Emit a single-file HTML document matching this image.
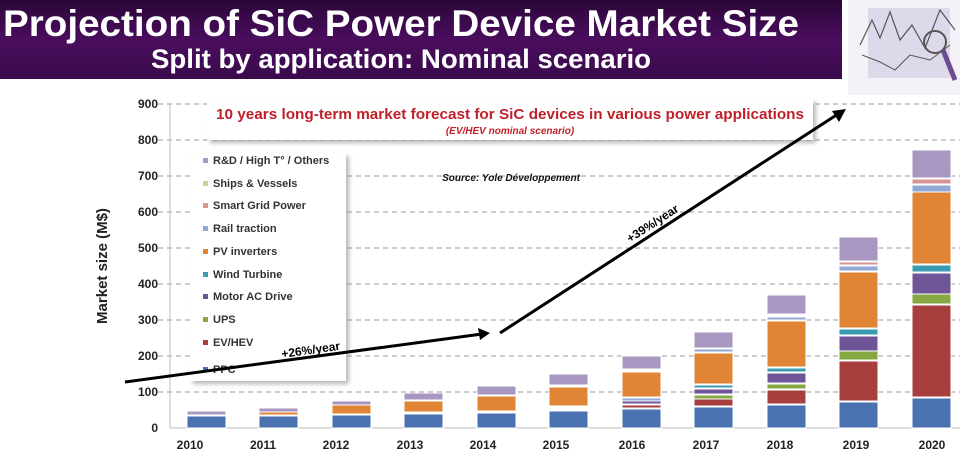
<!DOCTYPE html>
<html><head><meta charset="utf-8"><style>
body{margin:0;width:960px;height:451px;overflow:hidden;background:#fff;font-family:"Liberation Sans",sans-serif}
</style></head><body>
<svg width="960" height="451" viewBox="0 0 960 451" xmlns="http://www.w3.org/2000/svg" font-family="Liberation Sans, sans-serif">
<defs>
<linearGradient id="pg" x1="0" y1="0" x2="0" y2="1">
<stop offset="0" stop-color="#2a0638"/><stop offset="0.5" stop-color="#4a0d5e"/><stop offset="1" stop-color="#3a0a4c"/></linearGradient>
<filter id="sh" x="-5%" y="-5%" width="115%" height="120%"><feDropShadow dx="3" dy="3" stdDeviation="2" flood-color="#888" flood-opacity="0.6"/></filter>
</defs>
<rect x="0" y="0" width="842" height="79" fill="url(#pg)"/>
<text x="401" y="36" text-anchor="middle" fill="#fff" font-size="37" font-weight="bold" textLength="796" lengthAdjust="spacingAndGlyphs">Projection of SiC Power Device Market Size</text>
<text x="401" y="68" text-anchor="middle" fill="#fff" font-size="27" font-weight="bold" textLength="500" lengthAdjust="spacingAndGlyphs">Split by application: Nominal scenario</text>
<!-- sketch image -->
<rect x="848" y="0" width="112" height="95" fill="#f4f2f8"/>
<rect x="868" y="8" width="82" height="70" fill="#ddd8ea"/>
<polyline points="860,45 872,20 880,38 890,12 900,40 912,25 925,48 940,10 955,30" fill="none" stroke="#555" stroke-width="1.2"/>
<polyline points="862,55 880,62 895,70 910,55 930,60 950,45" fill="none" stroke="#555" stroke-width="1"/>
<circle cx="935" cy="42" r="11" fill="none" stroke="#555" stroke-width="2"/>
<line x1="943" y1="50" x2="955" y2="80" stroke="#6a4c90" stroke-width="5"/>
<!-- grid -->
<g stroke="#999" stroke-dasharray="5,4" stroke-width="1">
<line x1="158" y1="104" x2="960" y2="104"/><line x1="158" y1="140" x2="960" y2="140"/>
<line x1="158" y1="176" x2="960" y2="176"/><line x1="158" y1="212" x2="960" y2="212"/>
<line x1="158" y1="248" x2="960" y2="248"/><line x1="158" y1="284" x2="960" y2="284"/>
<line x1="158" y1="320" x2="960" y2="320"/><line x1="158" y1="356" x2="960" y2="356"/>
<line x1="158" y1="392" x2="960" y2="392"/>
</g>
<line x1="170" y1="104" x2="170" y2="428" stroke="#bbb"/>
<line x1="170" y1="428" x2="960" y2="428" stroke="#bbb"/>
<g font-size="12" font-weight="bold" fill="#222" text-anchor="end">
<text x="158" y="108">900</text><text x="158" y="144">800</text><text x="158" y="180">700</text>
<text x="158" y="216">600</text><text x="158" y="252">500</text><text x="158" y="288">400</text>
<text x="158" y="324">300</text><text x="158" y="360">200</text><text x="158" y="396">100</text>
<text x="158" y="432">0</text></g>
<text transform="translate(107,266) rotate(-90)" text-anchor="middle" font-size="15" font-weight="bold" fill="#222">Market size (M$)</text>
<g font-size="12" font-weight="bold" fill="#222" text-anchor="middle">
<text x="190" y="449">2010</text><text x="263" y="449">2011</text><text x="336" y="449">2012</text>
<text x="410" y="449">2013</text><text x="483" y="449">2014</text><text x="556" y="449">2015</text>
<text x="632" y="449">2016</text><text x="706" y="449">2017</text><text x="780" y="449">2018</text>
<text x="856" y="449">2019</text><text x="932" y="449">2020</text></g>
<!-- bars -->
<g stroke="#fff" stroke-width="1">
<rect x="187" y="411" width="39" height="4" fill="#a897c1"/><rect x="187" y="416" width="39" height="12" fill="#4a72b0"/>
<rect x="259" y="408" width="39" height="4" fill="#a897c1"/><rect x="259" y="412" width="39" height="3" fill="#e08536"/><rect x="259" y="416" width="39" height="12" fill="#4a72b0"/>
<rect x="332" y="401" width="39" height="4" fill="#a897c1"/><rect x="332" y="405" width="39" height="9" fill="#e08536"/><rect x="332" y="415" width="39" height="13" fill="#4a72b0"/>
<rect x="404" y="393" width="39" height="7" fill="#a897c1"/><rect x="404" y="401" width="39" height="11" fill="#e08536"/><rect x="404" y="414" width="39" height="14" fill="#4a72b0"/>
<rect x="477" y="386" width="39" height="9" fill="#a897c1"/><rect x="477" y="396" width="39" height="15" fill="#e08536"/><rect x="477" y="413" width="39" height="15" fill="#4a72b0"/>
<rect x="549" y="374" width="39" height="11" fill="#a897c1"/><rect x="549" y="387" width="39" height="19" fill="#e08536"/><rect x="549" y="411" width="39" height="17" fill="#4a72b0"/>
<rect x="622" y="356" width="39" height="13" fill="#a897c1"/><rect x="622" y="372" width="39" height="25" fill="#e08536"/><rect x="622" y="398" width="39" height="3" fill="#92a9d6"/><rect x="622" y="401" width="39" height="3" fill="#6f5598"/><rect x="622" y="405" width="39" height="3" fill="#a83f3f"/><rect x="622" y="409" width="39" height="19" fill="#4a72b0"/>
<rect x="694" y="332" width="39" height="16" fill="#a897c1"/><rect x="694" y="349" width="39" height="3" fill="#92a9d6"/><rect x="694" y="353" width="39" height="31" fill="#e08536"/><rect x="694" y="385" width="39" height="3" fill="#3a9bb2"/><rect x="694" y="389" width="39" height="5" fill="#6f5598"/><rect x="694" y="395" width="39" height="4" fill="#86a843"/><rect x="694" y="399" width="39" height="7" fill="#a83f3f"/><rect x="694" y="407" width="39" height="21" fill="#4a72b0"/>
<rect x="767" y="295" width="39" height="19" fill="#a897c1"/><rect x="767" y="317" width="39" height="3" fill="#92a9d6"/><rect x="767" y="321" width="39" height="46" fill="#e08536"/><rect x="767" y="368" width="39" height="4" fill="#3a9bb2"/><rect x="767" y="373" width="39" height="10" fill="#6f5598"/><rect x="767" y="384" width="39" height="5" fill="#86a843"/><rect x="767" y="390" width="39" height="14" fill="#a83f3f"/><rect x="767" y="405" width="39" height="23" fill="#4a72b0"/>
<rect x="839" y="237" width="39" height="24" fill="#a897c1"/><rect x="839" y="262" width="39" height="3" fill="#d99594"/><rect x="839" y="266" width="39" height="5" fill="#92a9d6"/><rect x="839" y="272" width="39" height="56" fill="#e08536"/><rect x="839" y="329" width="39" height="6" fill="#3a9bb2"/><rect x="839" y="336" width="39" height="15" fill="#6f5598"/><rect x="839" y="351" width="39" height="9" fill="#86a843"/><rect x="839" y="361" width="39" height="40" fill="#a83f3f"/><rect x="839" y="402" width="39" height="26" fill="#4a72b0"/>
<rect x="912" y="150" width="39" height="28" fill="#a897c1"/><rect x="912" y="179" width="39" height="5" fill="#d99594"/><rect x="912" y="185" width="39" height="7" fill="#92a9d6"/><rect x="912" y="192" width="39" height="72" fill="#e08536"/><rect x="912" y="265" width="39" height="7" fill="#3a9bb2"/><rect x="912" y="273" width="39" height="21" fill="#6f5598"/><rect x="912" y="294" width="39" height="10" fill="#86a843"/><rect x="912" y="305" width="39" height="92" fill="#a83f3f"/><rect x="912" y="398" width="39" height="30" fill="#4a72b0"/>
</g>
<!-- title box -->
<rect x="207" y="99" width="606" height="41" fill="#fff" filter="url(#sh)"/>
<text x="510" y="119" text-anchor="middle" font-size="15" font-weight="bold" fill="#c0202a" textLength="588" lengthAdjust="spacingAndGlyphs">10 years long-term market forecast for SiC devices in various power applications</text>
<text x="510" y="134" text-anchor="middle" font-size="10" font-style="italic" font-weight="bold" fill="#c0202a">(EV/HEV nominal scenario)</text>
<text x="511" y="181" text-anchor="middle" font-size="10" font-style="italic" font-weight="bold" fill="#111">Source: Yole Développement</text>
<!-- legend -->
<rect x="190" y="153" width="156" height="228" fill="#fff" filter="url(#sh)"/>
<g font-size="11" font-weight="bold" fill="#333">
<rect x="203" y="158" width="5" height="5" fill="#a897c1"/><text x="213" y="164">R&amp;D / High T° / Others</text>
<rect x="203" y="181" width="5" height="5" fill="#c3d69b"/><text x="213" y="187">Ships &amp; Vessels</text>
<rect x="203" y="203" width="5" height="5" fill="#d99594"/><text x="213" y="209">Smart Grid Power</text>
<rect x="203" y="226" width="5" height="5" fill="#92a9d6"/><text x="213" y="232">Rail traction</text>
<rect x="203" y="249" width="5" height="5" fill="#e08536"/><text x="213" y="255">PV inverters</text>
<rect x="203" y="272" width="5" height="5" fill="#3a9bb2"/><text x="213" y="278">Wind Turbine</text>
<rect x="203" y="294" width="5" height="5" fill="#6f5598"/><text x="213" y="300">Motor AC Drive</text>
<rect x="203" y="317" width="5" height="5" fill="#86a843"/><text x="213" y="323">UPS</text>
<rect x="203" y="340" width="5" height="5" fill="#a83f3f"/><text x="213" y="346">EV/HEV</text>
<rect x="203" y="367" width="5" height="5" fill="#4a72b0"/><text x="213" y="373">PPC</text>
</g>
<!-- arrows -->
<line x1="125" y1="382" x2="482" y2="334" stroke="#000" stroke-width="3"/>
<polygon points="490,333 478,328 480,340" fill="#000"/>
<line x1="500" y1="333" x2="838" y2="114" stroke="#000" stroke-width="3"/>
<polygon points="846,109 832,111 839,122" fill="#000"/>
<text transform="translate(282,358) rotate(-8)" font-size="12" font-weight="bold" fill="#000">+26%/year</text>
<text transform="translate(630,243) rotate(-33)" font-size="12" font-weight="bold" fill="#000">+39%/year</text>
</svg>
</body></html>
